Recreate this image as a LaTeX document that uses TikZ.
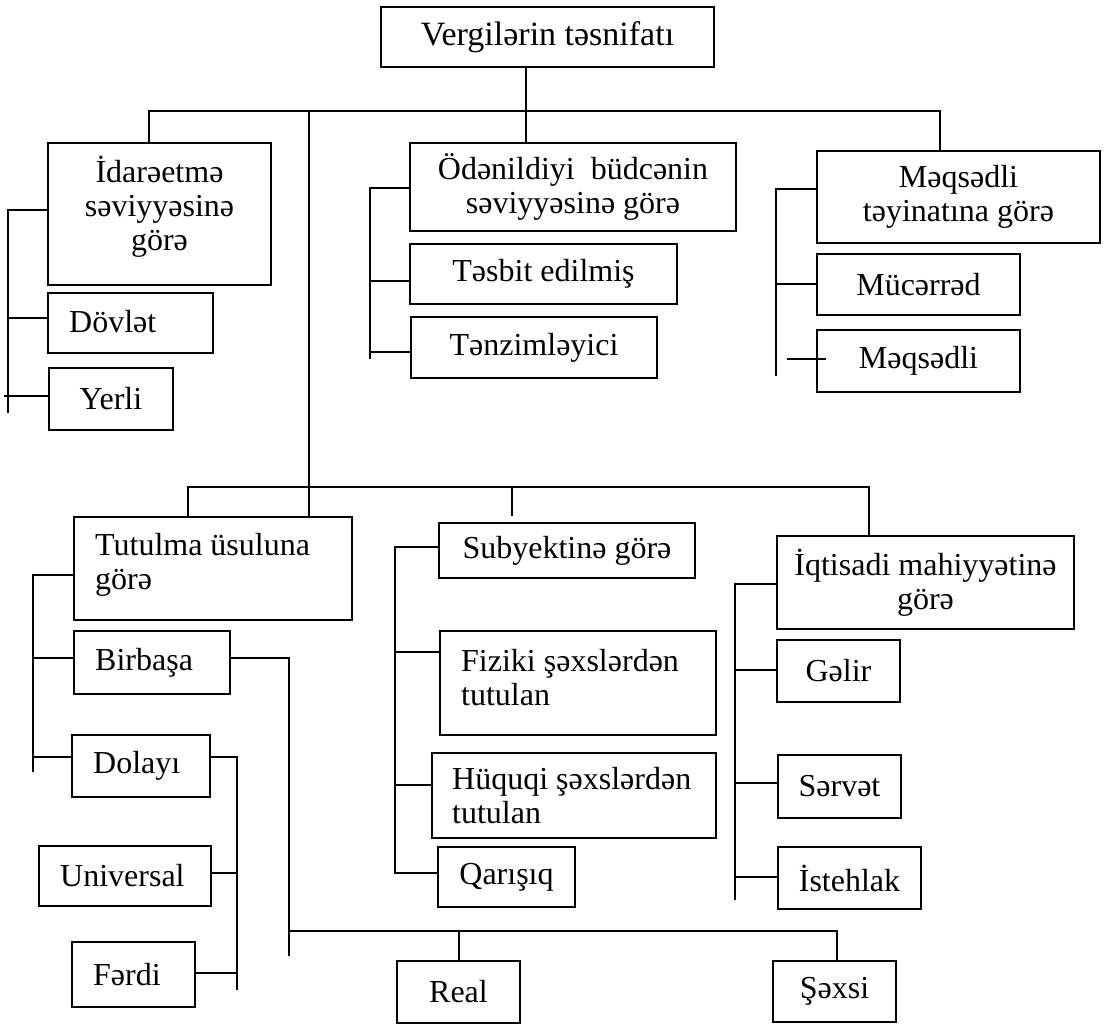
\documentclass[tikz,border=0pt]{standalone}
\usepackage{fontspec}
\setmainfont{Liberation Serif}

% a framed box given by its corners (x1,y1) and (x2,y2), in px units
\newcommand\cbox[6]{%
  \node[box,minimum width={(#4-#2)*0.75pt},minimum height={(#5-#3)*0.75pt}]
    (#1) at ({(#2+#4)/2},{(#3+#5)/2}) {#6};}

\tikzset{
  box/.style={draw, line width=1.6pt, inner sep=0pt, align=center,
    font=\fontsize{24}{25.5}\selectfont},
  headbox/.style={font=\fontsize{25.5}{27}\selectfont},
  txt/.style={inner sep=0pt, anchor=west, align=left,
    font=\fontsize{24}{25.5}\selectfont},
  ctxt/.style={inner sep=0pt, align=center,
    font=\fontsize{24}{25.5}\selectfont},
  link/.style={line width=1.5pt},
}

\begin{document}
\begin{tikzpicture}[x=0.75pt, y=-0.75pt]
\useasboundingbox (0,0) rectangle (1111,1025);

% ---------- boxes ----------
\node[box,headbox,minimum width={333*0.75pt},minimum height={60*0.75pt}]
  (title) at (547.5,37) {Vergilərin təsnifatı};

\cbox{idare}{48}{143}{271}{285}{}
\node[ctxt] (idare-t) at ([yshift=5.5pt]idare.center) {İdarəetmə\\səviyyəsinə\\görə};
\cbox{odenil}{410}{143}{736}{231}{Ödənildiyi\ \ büdcənin\\səviyyəsinə görə}
\cbox{meqsad}{817}{151}{1100}{243}{Məqsədli\\təyinatına görə}

\cbox{dovlet}{48}{293}{213}{353}{}
\node[txt] (dovlet-t) at ([xshift=16.5pt,yshift=1pt]dovlet.west) {Dövlət};
\cbox{yerli}{49}{368}{173}{430}{Yerli}

\cbox{tesbit}{410}{244}{677}{304}{Təsbit edilmiş}
\cbox{tenzim}{411}{317}{657}{378}{Tənzimləyici}

\cbox{mucerred}{817}{254}{1020}{315}{Mücərrəd}
\cbox{meqsedli}{817}{330}{1020}{392}{Məqsədli}

\cbox{tutulma}{74}{517}{352}{620}{}
\node[txt] (tutulma-t) at ([xshift=16.5pt,yshift=3pt]tutulma.west) {Tutulma üsuluna\\görə};
\cbox{birbasa}{74}{631}{230}{694}{}
\node[txt] (birbasa-t) at ([xshift=16.5pt]birbasa.west) {Birbaşa};
\cbox{dolayi}{72}{735}{210}{797}{}
\node[txt] (dolayi-t) at ([xshift=16.5pt]dolayi.west) {Dolayı};
\cbox{universal}{39}{846}{211}{906}{}
\node[txt] (universal-t) at ([xshift=16.5pt]universal.west) {Universal};
\cbox{ferdi}{72}{942}{195}{1007}{}
\node[txt] (ferdi-t) at ([xshift=16.5pt]ferdi.west) {Fərdi};

\cbox{real}{397}{961}{520}{1023}{Real}
\cbox{sexsi}{773}{961}{896}{1022}{Şəxsi}

\cbox{subyekt}{439}{523}{695}{578}{Subyektinə görə}
\cbox{fiziki}{440}{631}{716}{735}{}
\node[txt] (fiziki-t) at ([xshift=16.5pt,yshift=4pt]fiziki.west) {Fiziki şəxslərdən\\tutulan};
\cbox{huquqi}{432}{753}{716}{838}{}
\node[txt] (huquqi-t) at ([xshift=15.75pt]huquqi.west) {Hüquqi şəxslərdən\\tutulan};
\cbox{qarisiq}{438}{847}{575}{907}{Qarışıq}

\cbox{iqtisadi}{777}{536}{1074}{629}{İqtisadi mahiyyətinə\\görə}
\cbox{gelir}{777}{640}{900}{702}{Gəlir}
\cbox{servet}{778}{755}{901}{818}{Sərvət}
\cbox{istehlak}{778}{847}{921}{909}{İstehlak}

% ---------- upper connectors ----------
\coordinate (j0) at (526,111);
\draw[link] (title.south -| j0) -- (j0 |- odenil.north);
\coordinate (b1l) at (149,111);
\coordinate (b1r) at (940,111);
\draw[link] (b1l |- idare.north) -- (b1l) -- (b1r) -- (b1r |- meqsad.north);
\coordinate (m1) at (309,111);
\draw[link] (m1) -- (m1 |- tutulma.north);

% left group
\coordinate (s1a) at (8,210);
\coordinate (s1b) at (8,318);
\coordinate (s1c) at (4,396);
\coordinate (s1z) at (8,413);
\draw[link] (idare.west |- s1a) -- (s1a) -- (s1z);
\draw[link] (s1b) -- (s1b -| dovlet.west);
\draw[link] (s1c) -- (s1c -| yerli.west);

% middle group
\coordinate (s2a) at (370,188);
\coordinate (s2b) at (370,281);
\coordinate (s2c) at (370,352);
\coordinate (s2z) at (370,359);
\draw[link] (odenil.west |- s2a) -- (s2a) -- (s2z);
\draw[link] (s2b) -- (s2b -| tesbit.west);
\draw[link] (s2c) -- (s2c -| tenzim.west);

% right group
\coordinate (s3a) at (776,189);
\coordinate (s3b) at (776,284);
\coordinate (s3z) at (776,376);
\coordinate (s3c) at (787,359);
\draw[link] (meqsad.west |- s3a) -- (s3a) -- (s3z);
\draw[link] (s3b) -- (s3b -| mucerred.west);
\draw[link] (s3c) -- (s3c -| meqsedli.west) -- ++(10,0);

% ---------- lower connectors ----------
\coordinate (b2l) at (188,487);
\coordinate (b2m) at (512,487);
\coordinate (b2r) at (869,487);
\coordinate (b2me) at (512,516);
\draw[link] (b2l |- tutulma.north) -- (b2l) -- (b2r) -- (b2r |- iqtisadi.north);
\draw[link] (b2m) -- (b2me);

% by method of collection
\coordinate (s4a) at (33,575);
\coordinate (s4b) at (33,658);
\coordinate (s4c) at (33,757);
\coordinate (s4z) at (33,772);
\draw[link] (tutulma.west |- s4a) -- (s4a) -- (s4z);
\draw[link] (s4b) -- (s4b -| birbasa.west);
\draw[link] (s4c) -- (s4c -| dolayi.west);

\coordinate (c1) at (289,658);
\coordinate (c1z) at (289,956);
\draw[link] (birbasa.east |- c1) -- (c1) -- (c1z);
\coordinate (b3l) at (289,931);
\coordinate (b3m) at (459,931);
\coordinate (b3r) at (837,931);
\draw[link] (b3l) -- (b3r) -- (b3r |- sexsi.north);
\draw[link] (b3m) -- (b3m |- real.north);

\coordinate (c2) at (237,757);
\coordinate (c2a) at (237,873);
\coordinate (c2b) at (237,973);
\coordinate (c2z) at (237,990);
\draw[link] (dolayi.east |- c2) -- (c2) -- (c2z);
\draw[link] (c2a) -- (c2a -| universal.east);
\draw[link] (c2b) -- (c2b -| ferdi.east);

% by subject
\coordinate (s5a) at (395,547);
\coordinate (s5b) at (395,652);
\coordinate (s5c) at (395,785);
\coordinate (s5z) at (395,873);
\draw[link] (subyekt.west |- s5a) -- (s5a) -- (s5z) -- (s5z -| qarisiq.west);
\draw[link] (s5b) -- (s5b -| fiziki.west);
\draw[link] (s5c) -- (s5c -| huquqi.west);

% by economic content
\coordinate (s6a) at (735,584);
\coordinate (s6b) at (735,670);
\coordinate (s6c) at (735,783);
\coordinate (s6d) at (735,877);
\coordinate (s6z) at (735,900);
\draw[link] (iqtisadi.west |- s6a) -- (s6a) -- (s6z);
\draw[link] (s6b) -- (s6b -| gelir.west);
\draw[link] (s6c) -- (s6c -| servet.west);
\draw[link] (s6d) -- (s6d -| istehlak.west);
\end{tikzpicture}
\end{document}
